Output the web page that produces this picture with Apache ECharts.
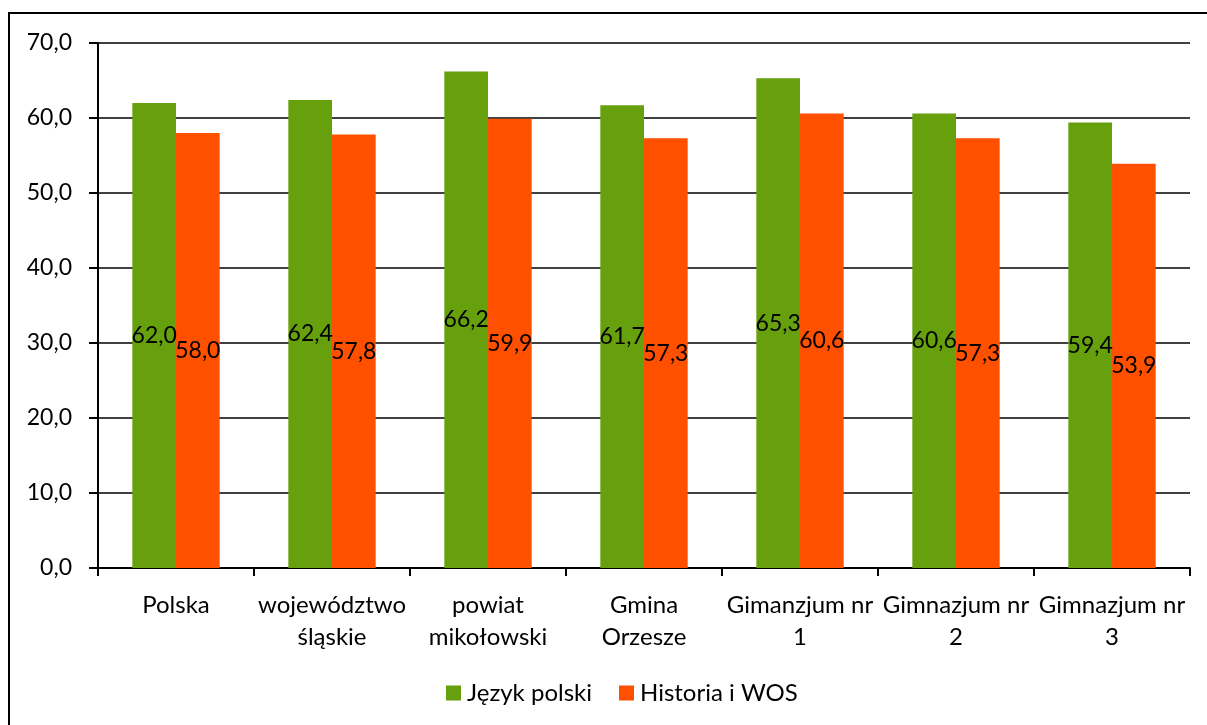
<!DOCTYPE html>
<html>
<head>
<meta charset="utf-8">
<script src="https://cdn.jsdelivr.net/npm/echarts@6/dist/echarts.min.js"></script>
<style>
  html, body { margin: 0; padding: 0; background: #fff; }
  #chart { width: 1207px; height: 725px; }
</style>
</head>
<body>
<div id="chart"></div>
<script>
const categories = ['Polska', 'województwo\nśląskie', 'powiat\nmikołowski', 'Gmina\nOrzesze', 'Gimanzjum nr\n1', 'Gimnazjum nr\n2', 'Gimnazjum nr\n3'];
const jezykPolski = [62.0, 62.4, 66.2, 61.7, 65.3, 60.6, 59.4];
const historiaWos = [58.0, 57.8, 59.9, 57.3, 60.6, 57.3, 53.9];
const yTicks = [0, 70, 10];

const FONT = 'Lato';
const fmt = v => v.toFixed(1).replace('.', ',');

const chart = echarts.init(document.getElementById('chart'));

const barLabel = {
  show: true,
  position: 'inside',
  color: '#000',
  fontFamily: FONT,
  fontSize: 23,
  formatter: p => fmt(p.value)
};

chart.setOption({
  animation: false,
  backgroundColor: '#fff',
  graphic: [{
    type: 'rect',
    shape: { x: 9, y: 13, width: 1400, height: 900 },
    style: { fill: 'none', stroke: '#000', lineWidth: 2 },
    z: 100
  }],
  grid: { left: 98, right: 17, top: 43, bottom: 157 },
  legend: {
    top: 676,
    left: 441,
    icon: 'rect',
    itemWidth: 15,
    itemHeight: 15,
    itemGap: 27,
    textStyle: { fontFamily: FONT, fontSize: 24, color: '#000', padding: [0, 0, 0, 1] },
    data: ['Język polski', 'Historia i WOS']
  },
  xAxis: {
    type: 'category',
    data: categories,
    axisLine: { lineStyle: { color: '#000', width: 2 } },
    axisTick: { show: true, length: 8, lineStyle: { color: '#000', width: 2 } },
    axisLabel: { fontFamily: FONT, fontSize: 24, color: '#000', lineHeight: 32, margin: 21, interval: 0 }
  },
  yAxis: {
    type: 'value',
    min: yTicks[0],
    max: yTicks[1],
    interval: yTicks[2],
    axisLine: { show: true, lineStyle: { color: '#000', width: 2 } },
    axisTick: { show: true, length: 9, lineStyle: { color: '#000', width: 2 } },
    axisLabel: { fontFamily: FONT, fontSize: 23, color: '#000', margin: 26, formatter: v => fmt(v) },
    splitLine: { lineStyle: { color: '#000', width: 1.5 } }
  },
  series: [
    {
      name: 'Język polski',
      type: 'bar',
      data: jezykPolski,
      barGap: '0%',
      barCategoryGap: '44%',
      itemStyle: { color: '#66a00c' },
      label: barLabel
    },
    {
      name: 'Historia i WOS',
      type: 'bar',
      data: historiaWos,
      itemStyle: { color: '#ff5000' },
      label: barLabel
    }
  ]
});
</script>
</body>
</html>
